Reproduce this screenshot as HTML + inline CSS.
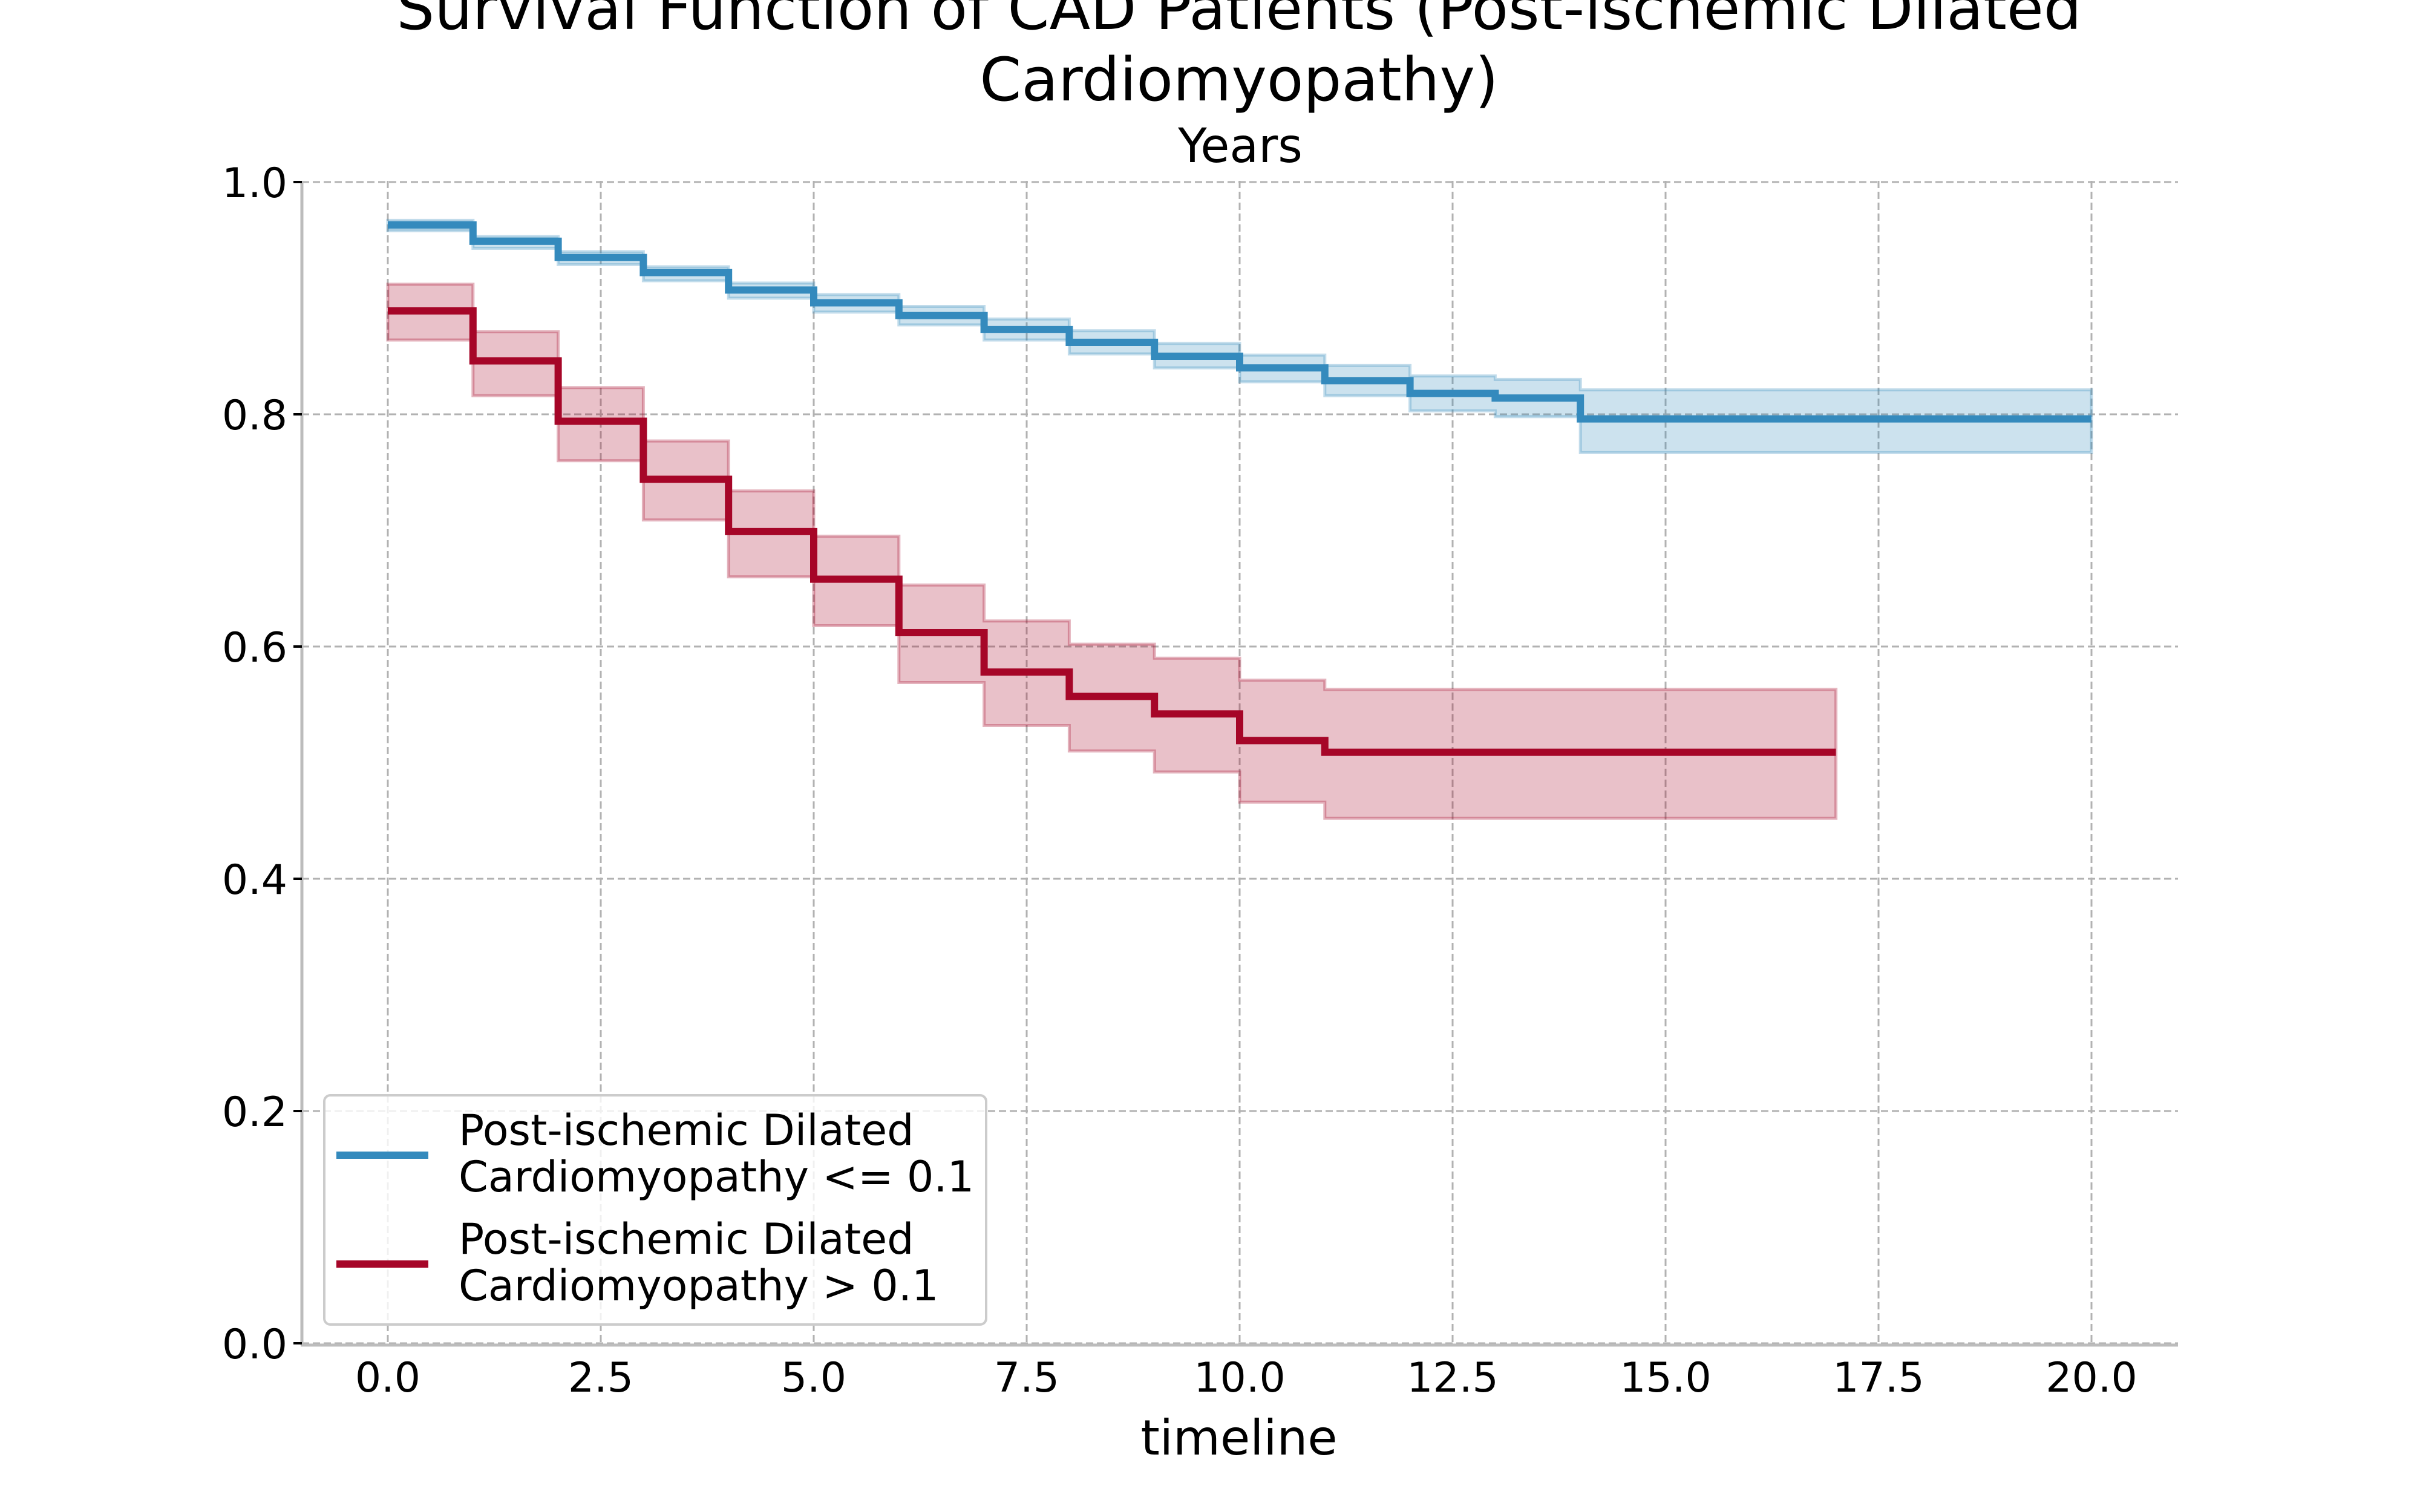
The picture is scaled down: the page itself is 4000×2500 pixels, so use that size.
<!DOCTYPE html>
<html><head><meta charset="utf-8"><style>
html,body{margin:0;padding:0;background:#fff;}
svg{display:block;font-family:"DejaVu Sans","Liberation Sans",sans-serif;}
</style></head><body>
<svg id="chart" width="4000" height="2500" viewBox="0 0 4000 2500" xmlns="http://www.w3.org/2000/svg">
<rect width="4000" height="2500" fill="#fff"/>
<text x="2048" y="48" font-size="99" text-anchor="middle">Survival Function of CAD Patients (Post-ischemic Dilated</text>
<text x="2048" y="166" font-size="99" text-anchor="middle">Cardiomyopathy)</text>
<text x="2050" y="268" font-size="78" text-anchor="middle">Years</text>
<g id="grid"></g>
<g id="bands"></g>
<g id="lines"></g>
<line x1="499" y1="299" x2="499" y2="2224" stroke="#bcbcbc" stroke-width="5"/>
<line x1="497" y1="2224" x2="3600" y2="2224" stroke="#bcbcbc" stroke-width="5"/>
<g id="ticks"></g>
<text x="2048" y="2405" font-size="80" text-anchor="middle">timeline</text>
<g>
<rect x="536" y="1811" width="1094" height="379" rx="10" fill="#fff" fill-opacity="0.8" stroke="#cccccc" stroke-width="4"/>
<line x1="556" y1="1910" x2="708" y2="1910" stroke="#348ABD" stroke-width="12"/>
<text x="758" y="1893" font-size="70">Post-ischemic Dilated</text>
<text x="758" y="1970" font-size="70">Cardiomyopathy &lt;= 0.1</text>
<line x1="556" y1="2090" x2="708" y2="2090" stroke="#A60628" stroke-width="12"/>
<text x="758" y="2073" font-size="70">Post-ischemic Dilated</text>
<text x="758" y="2150" font-size="70">Cardiomyopathy &gt; 0.1</text>
</g>
</svg>
<script>
const blueTimes=[0,1,2,3,4,5,6,7,8,9,10,11,12,13,14,20];
const blueSurv=[0.963,0.949,0.935,0.922,0.907,0.896,0.885,0.873,0.862,0.850,0.840,0.829,0.818,0.814,0.796];
const blueUpper=[0.967,0.953,0.940,0.927,0.913,0.903,0.893,0.882,0.872,0.861,0.851,0.842,0.833,0.830,0.821];
const blueLower=[0.958,0.943,0.929,0.915,0.900,0.888,0.877,0.864,0.852,0.840,0.828,0.816,0.803,0.798,0.767];
const redTimes=[0,1,2,3,4,5,6,7,8,9,10,11,17];
const redSurv=[0.889,0.846,0.794,0.744,0.699,0.658,0.612,0.578,0.557,0.542,0.519,0.509];
const redUpper=[0.912,0.871,0.823,0.777,0.734,0.695,0.653,0.622,0.602,0.590,0.571,0.563];
const redLower=[0.864,0.816,0.760,0.709,0.660,0.618,0.569,0.532,0.510,0.492,0.466,0.452];
const xTicks=[0,2.5,5,7.5,10,12.5,15,17.5,20];
const xTickLabels=["0.0","2.5","5.0","7.5","10.0","12.5","15.0","17.5","20.0"];
const yTicks=[0,0.2,0.4,0.6,0.8,1.0];
const yTickLabels=["0.0","0.2","0.4","0.6","0.8","1.0"];

const NS="http://www.w3.org/2000/svg";
const X=v=>641+v*140.8;
const Y=v=>2221-v*1920;
function mk(tag,attrs,parent){const e=document.createElementNS(NS,tag);for(const k in attrs)e.setAttribute(k,attrs[k]);document.getElementById(parent).appendChild(e);return e;}
function stepPath(t,v){let d=`M${X(t[0])},${Y(v[0])}`;for(let i=0;i<v.length;i++){d+=` H${X(t[i+1])}`;if(i+1<v.length)d+=` V${Y(v[i+1])}`;}return d;}
function bandPath(t,u,l){let d=`M${X(t[0])},${Y(u[0])}`;for(let i=0;i<u.length;i++){d+=` H${X(t[i+1])}`;if(i+1<u.length)d+=` V${Y(u[i+1])}`;}
 d+=` V${Y(l[l.length-1])}`;for(let i=l.length-1;i>=0;i--){d+=` H${X(t[i])}`;if(i>0)d+=` V${Y(l[i-1])}`;}return d+'Z';}

yTicks.forEach((v,i)=>{
 const g=mk('line',{x1:499,x2:3600,y1:Y(v),y2:Y(v),stroke:'#b2b2b2','stroke-width':3,'stroke-dasharray':'12,6'},'grid');
 
 
 const t=mk('line',{x1:485,x2:499,y1:Y(v),y2:Y(v),stroke:'#000','stroke-width':4},'ticks');
 
 
 const l=mk('text',{x:475,y:Y(v)+25,'font-size':68,'text-anchor':'end'},'ticks');
 l.textContent=yTickLabels[i];
 
 
});
xTicks.forEach((v,i)=>{
 const g=mk('line',{x1:X(v),x2:X(v),y1:299,y2:2224,stroke:'#b2b2b2','stroke-width':3,'stroke-dasharray':'12,6'},'grid');
 
 
 const l=mk('text',{x:X(v),y:2301,'font-size':68,'text-anchor':'middle'},'ticks');
 l.textContent=xTickLabels[i];
 
 
});
const b1=mk('path',{d:bandPath(blueTimes,blueUpper,blueLower),fill:'#348ABD','fill-opacity':0.25,stroke:'#348ABD','stroke-opacity':0.3,'stroke-width':5},'bands');


const b2=mk('path',{d:bandPath(redTimes,redUpper,redLower),fill:'#A60628','fill-opacity':0.25,stroke:'#A60628','stroke-opacity':0.3,'stroke-width':5},'bands');


const l1=mk('path',{d:stepPath(blueTimes,blueSurv),fill:'none',stroke:'#348ABD','stroke-width':12},'lines');


const l2=mk('path',{d:stepPath(redTimes,redSurv),fill:'none',stroke:'#A60628','stroke-width':12},'lines');


</script>
</body></html>
